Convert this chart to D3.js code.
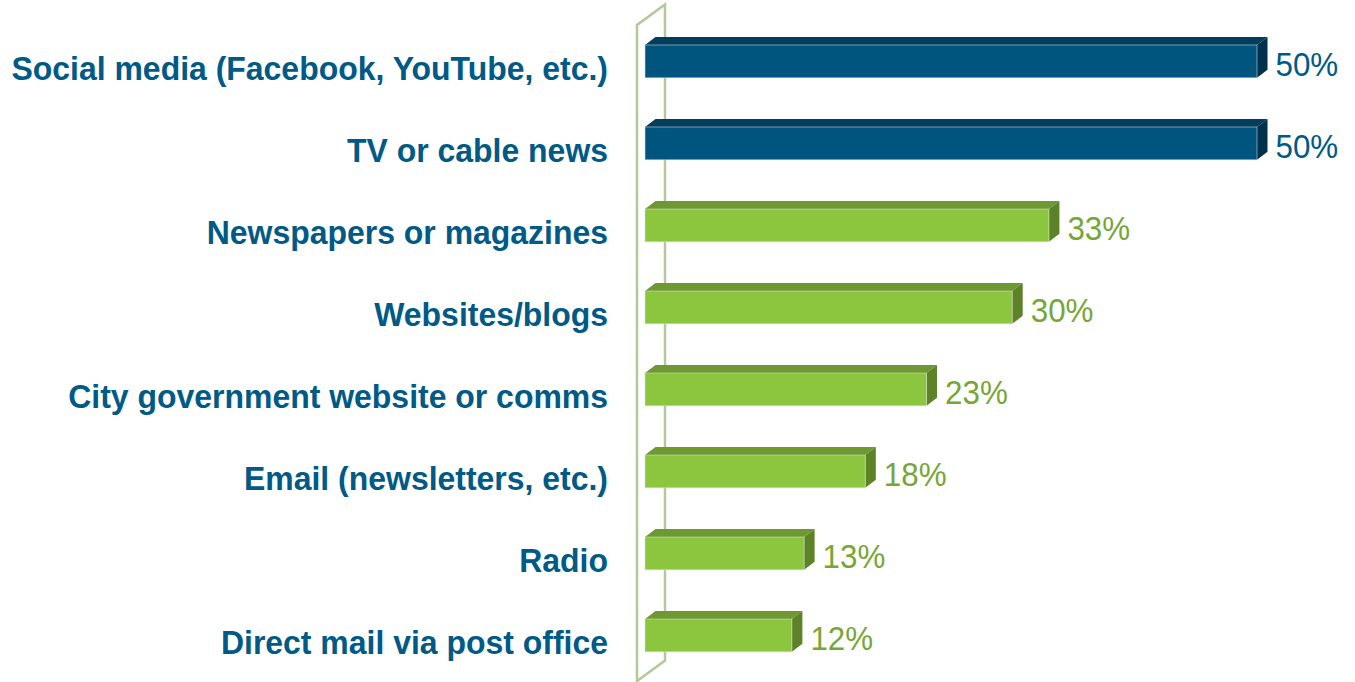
<!DOCTYPE html>
<html>
<head>
<meta charset="utf-8">
<script src="https://cdn.jsdelivr.net/npm/d3@7"></script>
<style>
  html, body { margin: 0; padding: 0; background: #ffffff; }
  svg { display: block; }
  text { font-family: "Liberation Sans", Arial, sans-serif; }
</style>
</head>
<body>
<svg id="chart" width="1355" height="682"></svg>
<script>
// Where people get information about the city (share of respondents)
const categories = [
  "Social media (Facebook, YouTube, etc.)",
  "TV or cable news",
  "Newspapers or magazines",
  "Websites/blogs",
  "City government website or comms",
  "Email (newsletters, etc.)",
  "Radio",
  "Direct mail via post office"
];
const values = [50, 50, 33, 30, 23, 18, 13, 12];
const valueLabels = ["50%", "50%", "33%", "30%", "23%", "18%", "13%", "12%"];
const groups = ["top", "top", "other", "other", "other", "other", "other", "other"];

const svg = d3.select("#chart");

// scales
const x = d3.scaleLinear().domain([0, 50]).range([645, 1257]);
const y = d3.scaleBand().domain(categories).range([20.4, 676.4])
  .paddingInner(0.6).paddingOuter(0.3);

// 3-D depth of the bars and of the back wall
const bdx = 10.5, bdy = -8;
const wdx = 28, wdy = -20.5;

const palette = {
  top:   { front: "#00557f", lid: "#003e5f", side: "#00314c", text: "#005a86" },
  other: { front: "#8cc63f", lid: "#6e9830", side: "#5d8228", text: "#77a637" }
};

// back wall (value axis plane)
const wx = x(0) - 8, wy0 = 25, wy1 = 681;
svg.append("path")
  .attr("d", `M${wx},${wy1} L${wx},${wy0} L${wx + wdx},${wy0 + wdy} L${wx + wdx},${wy1 + wdy} Z`)
  .attr("fill", "none")
  .attr("stroke", "#b3c99b")
  .attr("stroke-width", 2.5)
  .attr("stroke-linejoin", "miter");

// bars
const bars = svg.append("g").selectAll("g")
  .data(categories.map((c, i) => ({ c, v: values[i], g: groups[i], lab: valueLabels[i] })))
  .join("g");

bars.each(function (d) {
  const g = d3.select(this);
  const x0 = x(0), x1 = x(d.v), y0 = y(d.c), h = y.bandwidth();
  const col = palette[d.g];
  // top face
  g.append("path")
    .attr("d", `M${x0},${y0} L${x0 + bdx},${y0 + bdy} L${x1 + bdx},${y0 + bdy} L${x1},${y0} Z`)
    .attr("fill", col.lid);
  // right side face
  g.append("path")
    .attr("d", `M${x1},${y0} L${x1 + bdx},${y0 + bdy} L${x1 + bdx},${y0 + h + bdy} L${x1},${y0 + h} Z`)
    .attr("fill", col.side);
  // front face
  g.append("rect")
    .attr("x", x0).attr("y", y0)
    .attr("width", x1 - x0).attr("height", h)
    .attr("fill", col.front)
    .attr("stroke", "rgba(220,225,215,0.55)")
    .attr("stroke-width", 1);
  // value label
  g.append("text")
    .attr("transform", `translate(${x1 + bdx + 8},${y0 + 30.5}) scale(0.95,1)`)
    .attr("font-size", 33)
    .attr("fill", col.text)
    .text(d.lab);
});

// category labels
svg.append("g").selectAll("text")
  .data(categories)
  .join("text")
  .attr("transform", d => `translate(608,${y(d) + 35}) scale(0.94,1)`)
  .attr("text-anchor", "end")
  .attr("font-size", 34)
  .attr("font-weight", "bold")
  .attr("fill", "#005a86")
  .text(d => d);
</script>
</body>
</html>
